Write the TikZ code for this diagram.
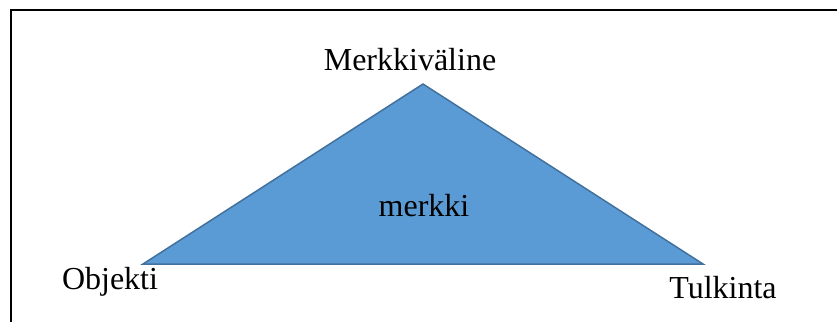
\documentclass[tikz,border=0pt]{standalone}
\usepackage{fontspec}
\setmainfont{Liberation Serif}
\definecolor{signfill}{HTML}{5B9BD5}
\definecolor{signedge}{HTML}{41719C}
\begin{document}
\begin{tikzpicture}[x=1pt,y=-1pt,
  label text/.style={font=\fontsize{32}{36}\selectfont, anchor=base, inner sep=0pt},
  frame line/.style={line width=2.5pt, draw=black}]
\useasboundingbox (0,0) rectangle (837,322);
% open frame: top and left edges only
\coordinate (ftl) at (11,10);
\coordinate (ftr) at (837,10);
\coordinate (fbl) at (11,322);
\draw[frame line] (fbl) -- (ftl) -- (ftr);
% the sign triangle
\coordinate (apex) at (423,84);
\coordinate (left) at (143,264);
\coordinate (right) at (703,264);
\draw[fill=signfill, draw=signedge, line width=1.5pt, line join=miter] (left) -- (apex) -- (right) -- cycle;
% labels
\node[label text] (medium) at (410,70) {Merkkiväline};
\node[label text] (sign) at (424,216) {merkki};
\node[label text] (object) at (110,289) {Objekti};
\node[label text] (interp) at (723,298) {Tulkinta};
\end{tikzpicture}
\end{document}
